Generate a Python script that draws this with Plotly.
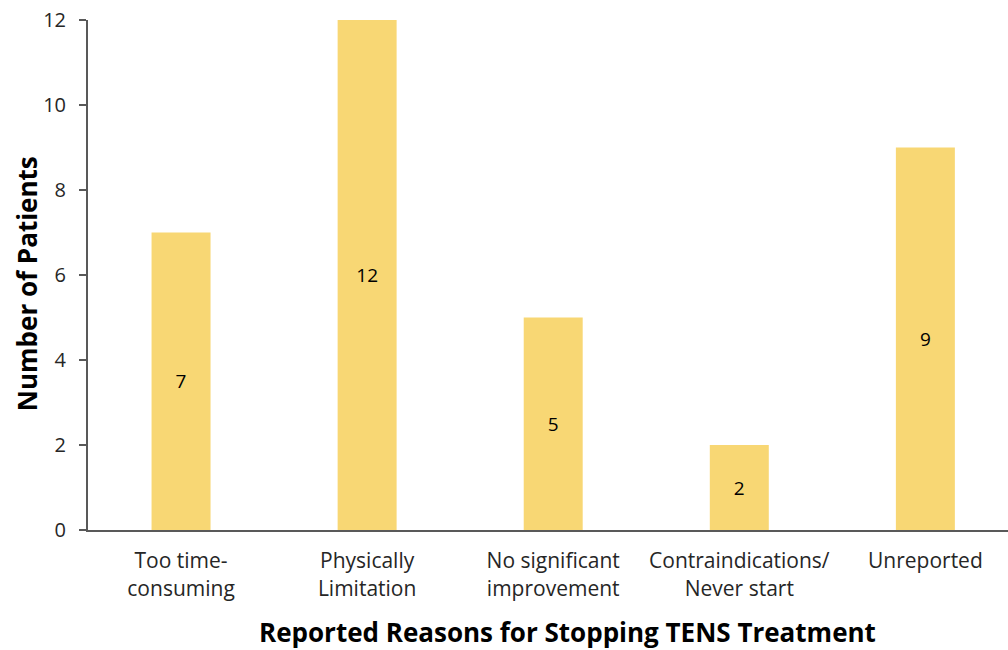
import plotly.graph_objects as go

# Reasons patients gave for stopping TENS treatment
reasons = [
    "Too time-<br>consuming",
    "Physically<br>Limitation",
    "No significant<br>improvement",
    "Contraindications/<br>Never start",
    "Unreported",
]
patients = [7, 12, 5, 2, 9]
y_ticks = [0, 2, 4, 6, 8, 10, 12]

FONT = "Open Sans"
BAR_COLOR = "#F8D774"
AXIS_COLOR = "#595959"

fig = go.Figure(
    go.Bar(
        x=list(range(len(reasons))),
        y=patients,
        width=0.317,
        marker=dict(color=BAR_COLOR, line=dict(width=0)),
        text=[str(v) for v in patients],
        textposition="inside",
        insidetextanchor="middle",
        textangle=0,
        textfont=dict(family=FONT, size=19, color="#000000"),
        hoverinfo="x+y",
    )
)

fig.update_layout(
    width=1008,
    height=650,
    margin=dict(l=88, r=0, t=20, b=120),
    plot_bgcolor="white",
    paper_bgcolor="white",
    showlegend=False,
    font=dict(family=FONT, size=20, color="#262626"),
    xaxis=dict(
        range=[-0.5, 4.444],
        tickmode="array",
        tickvals=list(range(len(reasons))),
        ticktext=reasons,
        showline=True,
        linecolor=AXIS_COLOR,
        linewidth=2,
        ticks="",
        showgrid=False,
        zeroline=False,
        tickfont=dict(family=FONT, size=21, color="#262626"),
        ticklabelstandoff=11,
    ),
    yaxis=dict(
        range=[0, 12],
        tickmode="array",
        tickvals=y_ticks,
        showline=True,
        linecolor=AXIS_COLOR,
        linewidth=2,
        ticks="outside",
        ticklen=7,
        tickwidth=1.5,
        tickcolor=AXIS_COLOR,
        showgrid=False,
        zeroline=False,
        tickfont=dict(family=FONT, size=20, color="#262626"),
        ticklabelstandoff=9,
    ),
    annotations=[
        dict(
            text="<b>Reported Reasons for Stopping TENS Treatment</b>",
            xref="paper", yref="paper",
            x=(567 - 88) / 920, y=-0.2,
            xanchor="center", yanchor="middle",
            showarrow=False,
            font=dict(family=FONT, size=26, color="#000000"),
        ),
        dict(
            text="<b>Number of Patients</b>",
            xref="paper", yref="paper",
            x=-(88 - 27) / 920, y=0.482,
            xanchor="center", yanchor="middle",
            textangle=-90,
            showarrow=False,
            font=dict(family=FONT, size=26, color="#000000"),
        ),
    ],
)

fig.write_html("out.html")
